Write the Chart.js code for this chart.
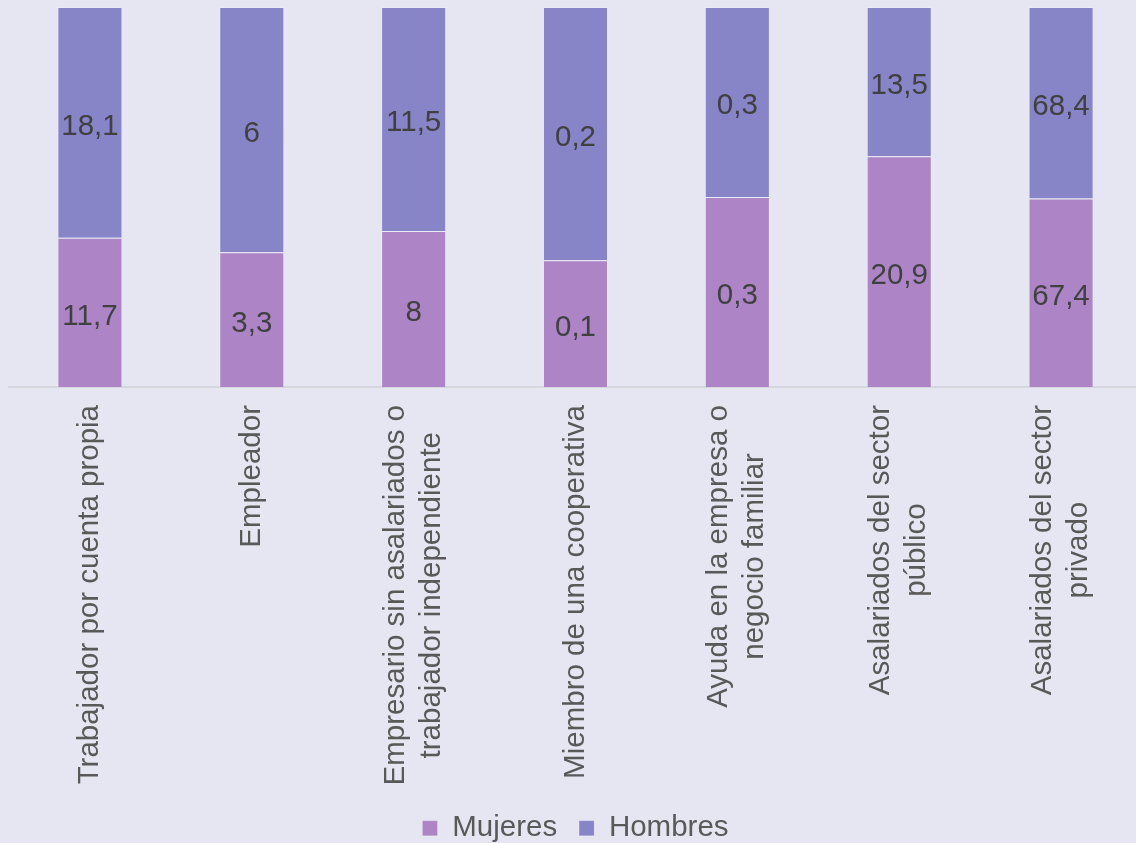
<!DOCTYPE html>
<html>
<head>
<meta charset="utf-8">
<script src="https://cdn.jsdelivr.net/npm/chart.js@4.4.0/dist/chart.umd.min.js"></script>
<style>
  html, body { margin: 0; padding: 0; background: #E6E6F2; overflow: hidden; }
  #wrap { width: 1136px; height: 843px; overflow: hidden; }
</style>
</head>
<body>
<div id="wrap"><canvas id="myChart" width="1142" height="843"></canvas></div>
<script>
var categories = [
  ["Trabajador por cuenta propia"],
  ["Empleador"],
  ["Empresario sin asalariados o", "trabajador independiente"],
  ["Miembro de una cooperativa"],
  ["Ayuda en la empresa o", "negocio familiar"],
  ["Asalariados del sector", "público"],
  ["Asalariados del sector", "privado"]
];
var mujeres = [11.7, 3.3, 8, 0.1, 0.3, 20.9, 67.4];
var hombres = [18.1, 6, 11.5, 0.2, 0.3, 13.5, 68.4];

var FONT = '"Liberation Sans", Arial, sans-serif';
var BG = "#E6E6F2";
var AXIS_BOTTOM = 387;
var PAD_BOTTOM = -10;

// share of each group inside its category (100% stacked)
function share(a, b) {
  return a.map(function (v, i) { return v / (a[i] + b[i]) * 100; });
}
function fmt(v) {
  return String(v).replace(".", ",");
}

var bgPlugin = {
  id: "bg",
  beforeDraw: function (chart) {
    var ctx = chart.ctx;
    ctx.save();
    ctx.fillStyle = BG;
    ctx.fillRect(0, 0, chart.width, chart.height);
    ctx.restore();
  }
};

var valueLabels = {
  id: "valueLabels",
  afterDatasetsDraw: function (chart) {
    var ctx = chart.ctx;
    ctx.save();
    ctx.font = "29.5px " + FONT;
    ctx.fillStyle = "#404040";
    ctx.textAlign = "center";
    ctx.textBaseline = "middle";
    chart.data.datasets.forEach(function (ds, di) {
      var meta = chart.getDatasetMeta(di);
      meta.data.forEach(function (bar, i) {
        var c = bar.getCenterPoint();
        ctx.fillText(fmt(ds.raw[i]), c.x, c.y + 4);
      });
    });
    ctx.restore();
  }
};

var catLabels = {
  id: "catLabels",
  afterDraw: function (chart) {
    var ctx = chart.ctx;
    var xs = chart.scales.x;
    var top = chart.chartArea.bottom + 18;
    ctx.save();
    ctx.font = "29.5px " + FONT;
    ctx.fillStyle = "#595959";
    ctx.textAlign = "center";
    ctx.textBaseline = "middle";
    categories.forEach(function (lines, i) {
      var x = xs.getPixelForValue(i);
      var w = 0;
      lines.forEach(function (l) { w = Math.max(w, ctx.measureText(l).width); });
      ctx.save();
      ctx.translate(x, top);
      ctx.rotate(-Math.PI / 2);
      lines.forEach(function (l, j) {
        ctx.fillText(l, -w / 2, (j - (lines.length - 1) / 2) * 36);
      });
      ctx.restore();
    });
    ctx.restore();
  }
};

Chart.defaults.font.family = FONT;

var ctx = document.getElementById("myChart");
var myChart = new Chart(ctx, {
  type: "bar",
  data: {
    labels: categories,
    datasets: [
      {
        label: "Mujeres",
        raw: mujeres,
        data: share(mujeres, hombres),
        backgroundColor: "#AD84C6",
        borderColor: "rgba(255,255,255,0.18)",
        borderWidth: 1
      },
      {
        label: "Hombres",
        raw: hombres,
        data: share(hombres, mujeres),
        backgroundColor: "#8784C7",
        borderColor: "rgba(255,255,255,0.18)",
        borderWidth: 1
      }
    ]
  },
  options: {
    responsive: false,
    animation: false,
    devicePixelRatio: 1,
    layout: { padding: { top: 7, left: 9, right: 0, bottom: PAD_BOTTOM } },
    datasets: { bar: { categoryPercentage: 1, barPercentage: 0.402 } },
    scales: {
      x: {
        stacked: true,
        grid: { display: false },
        border: { display: true, color: "#D6D6DE", width: 2 },
        ticks: { display: false },
        afterFit: function (scale) {
          var lg = scale.chart.legend ? scale.chart.legend.height : 0;
          scale.height = scale.chart.height - PAD_BOTTOM - lg - AXIS_BOTTOM;
        }
      },
      y: {
        stacked: true,
        display: false,
        min: 0,
        max: 100
      }
    },
    plugins: {
      legend: {
        position: "bottom",
        labels: {
          color: "#595959",
          font: { size: 29.5, family: FONT },
          boxWidth: 15,
          boxHeight: 15,
          padding: 22
        }
      },
      tooltip: { enabled: false }
    }
  },
  plugins: [bgPlugin, valueLabels, catLabels]
});
</script>
</body>
</html>
